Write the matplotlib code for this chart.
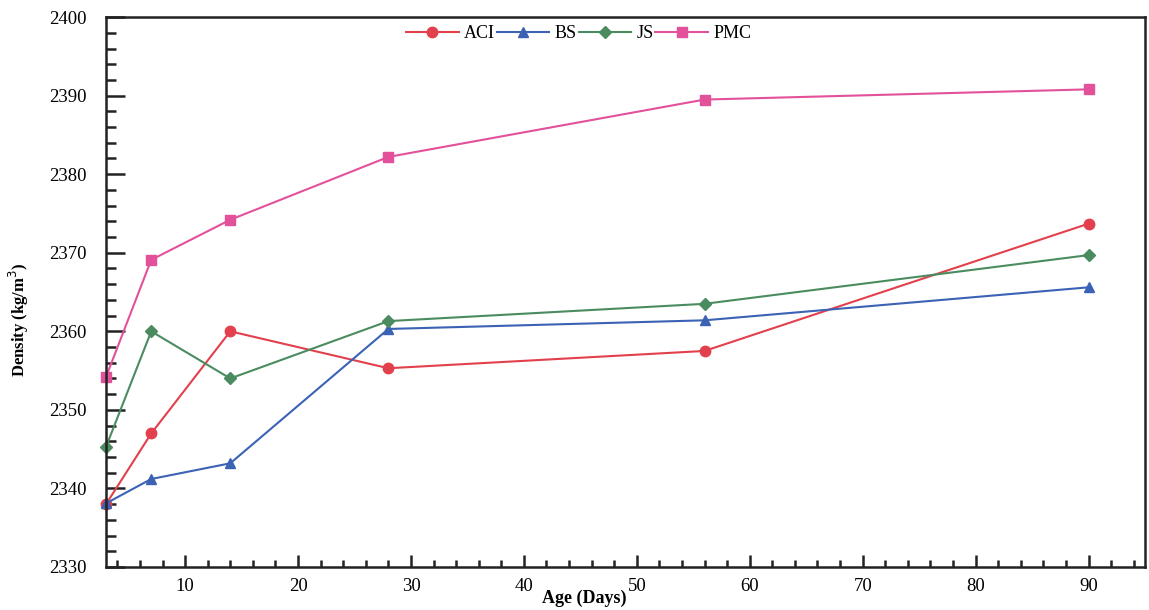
import matplotlib.pyplot as plt
from matplotlib.ticker import MultipleLocator

plt.rcParams['font.family'] = ['Liberation Serif', 'DejaVu Serif']

days = [3, 7, 14, 28, 56, 90]
aci = [2338.0, 2347.0, 2360.0, 2355.3, 2357.5, 2373.7]
bs = [2338.1, 2341.2, 2343.2, 2360.3, 2361.4, 2365.6]
js = [2345.3, 2360.0, 2354.0, 2361.3, 2363.5, 2369.7]
pmc = [2354.2, 2369.1, 2374.2, 2382.2, 2389.5, 2390.8]

series = [
    ('ACI', aci, '#e2404c', 'o'),
    ('BS', bs, '#3b62b5', '^'),
    ('JS', js, '#4a8c60', 'D'),
    ('PMC', pmc, '#e2519a', 's'),
]

fig = plt.figure(figsize=(11.49, 6.10), dpi=100)
ax = fig.add_axes([0.0923, 0.0705, 0.9042, 0.9015])

for name, vals, col, mk in series:
    ms = 6.5 if mk == 'D' else 7.5
    ax.plot(days, vals, color=col, marker=mk, markersize=ms, lw=1.5,
            label=name, clip_on=False)

ax.set_xlim(3, 95)
ax.set_ylim(2330, 2400)
ax.xaxis.set_major_locator(MultipleLocator(10))
ax.xaxis.set_minor_locator(MultipleLocator(2))
ax.yaxis.set_major_locator(MultipleLocator(10))
ax.yaxis.set_minor_locator(MultipleLocator(2))

ax.tick_params(which='both', direction='in', top=False, right=False,
               labelsize=13.5, width=1.8, color='#222222')
ax.tick_params(axis='y', which='major', length=14, pad=14)
ax.tick_params(axis='y', which='minor', length=7)
ax.tick_params(axis='x', which='major', length=9, pad=8)
ax.tick_params(axis='x', which='minor', length=5)

for side in ['left', 'bottom', 'top', 'right']:
    ax.spines[side].set_linewidth(1.8)
    ax.spines[side].set_color('#222222')

ax.set_xlabel('Age (Days)', fontsize=13, fontweight='bold')
ax.xaxis.set_label_coords(0.46, -0.042)
ax.set_ylabel('Density (kg/m$^3$)', fontsize=12, fontweight='bold')
ax.yaxis.set_label_coords(-0.072, 0.45)

ax.legend(loc='upper center', bbox_to_anchor=(0.455, 1.008), ncol=4,
          frameon=False, fontsize=13, handlelength=2.9, handletextpad=0.3,
          columnspacing=0.1, borderaxespad=0.3)

fig.savefig('out.png', dpi=100)
